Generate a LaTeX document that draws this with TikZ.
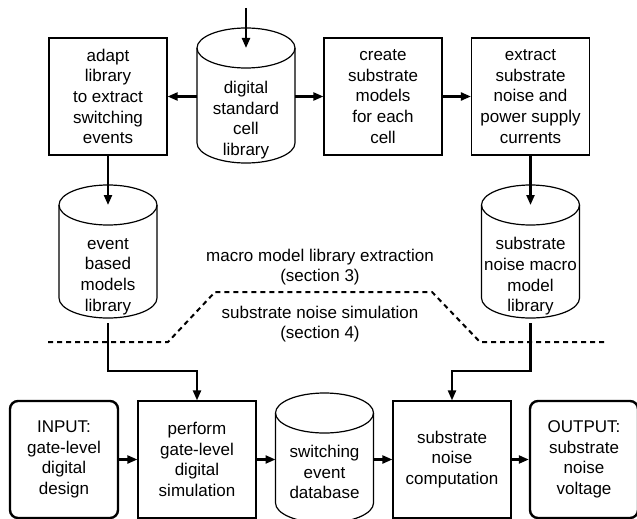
\documentclass[tikz,border=0pt]{standalone}
\usepackage{fontspec}
\setmainfont{Liberation Sans}
\usetikzlibrary{arrows.meta}

\begin{document}
\begin{tikzpicture}[x=1pt,y=-1pt,
  font=\fontsize{17}{20.6}\selectfont,
  box/.style={draw,line width=1.2pt,minimum width=118pt,minimum height=117pt,align=center,inner sep=1pt},
  rbox/.style={box,line width=2.4pt,rounded corners=8pt,minimum width=108pt},
  db/.style={minimum width=98pt,align=center,inner sep=0pt,outer sep=0pt},
  conn/.style={line width=2.2pt,-{Triangle[length=10pt,width=8pt]}},
  sep/.style={line width=2pt,dash pattern=on 5pt off 4pt}]

\useasboundingbox (0,0) rectangle (637,519);

% top row
\node[box] (adapt) at (108,96.5) {adapt\\library\\to extract\\switching\\events};
\node[db] (lib) at (246,120) {digital\\standard\\cell\\library};
\node[box] (create) at (383,96.5) {create\\substrate\\models\\for each\\cell};
\node[box] (extract) at (530.5,96.5) {extract\\substrate\\noise and\\power supply\\currents};

% libraries
\node[db] (evlib) at (108,276.5) {event\\based\\models\\library};
\node[db] (smlib) at (530.5,276.5) {substrate\\noise macro\\model\\library};

% bottom row
\node[rbox] (input) at (64,459.5) {INPUT:\\gate-level\\digital\\design};
\node[box] (perform) at (197,459.5) {perform\\gate-level\\digital\\simulation};
\node[db] (swdb) at (324.5,472) {switching\\event\\database};
\node[box] (comp) at (452,459.5) {substrate\\noise\\computation};
\node[rbox] (output) at (584,459.5) {OUTPUT:\\substrate\\noise\\voltage};

% cylinders: top and bottom ellipse centres measured from the text
\foreach \n/\t/\b in {lib/72/23,evlib/71.5/21.5,smlib/71.5/21.5,swdb/59/31}{
  \coordinate (\n-top) at ([yshift=\t pt]\n.center);
  \coordinate (\n-bot) at ([yshift=-\b pt]\n.center);
  \draw[line width=1.2pt] (\n-top) ellipse [x radius=49pt,y radius=20pt];
  \draw[line width=1.2pt] ([xshift=-49pt]\n-top) -- ([xshift=-49pt]\n-bot)
    arc[start angle=180,end angle=360,x radius=49pt,y radius=20pt] -- ([xshift=49pt]\n-top);
}

% section border
\draw[sep] (48,342) -- (168,342) -- (215,292) -- (432,292) -- (480,342) -- (608,342);
\node[align=center] (upper) at (320,267) {macro model library extraction\\(section 3)};
\node[align=center] (lower) at (320,324) {substrate noise simulation\\(section 4)};

% connectors
\coordinate (in) at (246,8);
\draw[conn] (in) -- (lib-top);
\draw[conn] (lib.west |- adapt.east) -- (adapt.east);
\draw[conn] (lib.east |- create.west) -- (create.west);
\draw[conn] (create) -- (extract);
\draw[conn] (adapt) -- (evlib-top);
\draw[conn] (extract) -- (smlib-top);
\draw[conn] ([yshift=-25pt]evlib-bot) -- ++(0,48) -| (perform);
\draw[conn] ([yshift=-25pt]smlib-bot) -- ++(0,48) -| (comp);
\draw[conn] (input) -- (perform);
\draw[conn] (perform.east) -- (perform.east -| swdb.west);
\draw[conn] (swdb.east |- comp.west) -- (comp.west);
\draw[conn] (comp) -- (output);

\end{tikzpicture}
\end{document}
